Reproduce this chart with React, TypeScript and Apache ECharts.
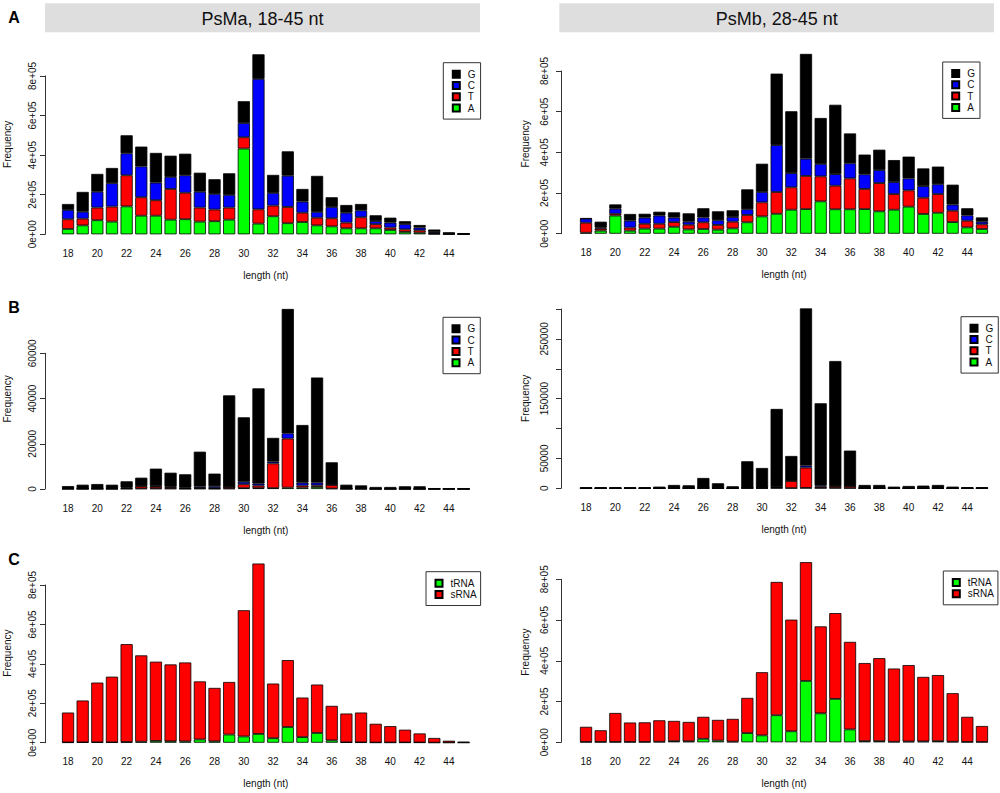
import React, { useEffect, useRef } from "react";
import * as echarts from "echarts";

// ---------- categories ----------
const LENGTHS = [
  "18", "19", "20", "21", "22", "23", "24", "25", "26", "27", "28", "29", "30", "31",
  "32", "33", "34", "35", "36", "37", "38", "39", "40", "41", "42", "43", "44", "45",
];

// ---------- data (thousands of reads) ----------
// Row A: PsMa 18-45 nt, first-nucleotide composition of all reads
const PSMA_A = [27, 45, 71, 64, 141, 94, 94, 74, 76, 64, 66, 74, 433, 54, 91, 56, 62, 45, 40, 30, 30, 30, 22, 12, 8, 2, 1, 0.5];
const PSMA_T = [49, 34, 64, 76, 157, 93, 78, 155, 134, 71, 59, 61, 57, 72, 54, 82, 47, 39, 41, 29, 56, 21, 12, 13, 12, 3, 1, 0.5];
const PSMA_C = [47, 35, 80, 118, 111, 156, 89, 61, 88, 80, 79, 64, 72, 659, 64, 158, 56, 29, 57, 50, 35, 16, 25, 26, 14, 6, 2, 1];
const PSMA_G = [30, 100, 90, 77, 91, 100, 150, 107, 109, 96, 74, 109, 110, 124, 91, 123, 64, 182, 49, 39, 32, 29, 25, 15, 13, 13, 6, 3];

// Row A: PsMb 28-45 nt
const PSMB_A = [5, 15, 89, 15, 25, 25, 34, 21, 23, 20, 26, 56, 85, 98, 118, 121, 159, 120, 120, 121, 110, 118, 133, 97, 103, 57, 31, 23];
const PSMB_T = [49, 10, 9, 15, 24, 24, 23, 23, 33, 23, 33, 36, 69, 107, 110, 163, 123, 116, 152, 99, 139, 77, 80, 80, 92, 56, 33, 23];
const PSMB_C = [20, 5, 25, 34, 30, 40, 22, 15, 24, 23, 23, 28, 51, 231, 70, 85, 61, 57, 74, 72, 64, 59, 59, 57, 48, 30, 26, 13];
const PSMB_G = [2, 29, 21, 33, 19, 19, 26, 41, 45, 44, 33, 98, 139, 351, 304, 515, 226, 341, 147, 97, 100, 108, 107, 87, 87, 98, 35, 21];

// Row B: tRNA-derived reads, PsMa
const TRNA_MA_A = [0.05, 0.05, 0.05, 0.05, 0.1, 0.2, 0.2, 0.2, 0.1, 0.2, 0.1, 0.2, 0.4, 0.4, 0.4, 0.6, 0.6, 0.9, 0.2, 0.05, 0.05, 0.02, 0.02, 0.02, 0.02, 0.01, 0.01, 0.01];
const TRNA_MA_T = [0.1, 0.1, 0.1, 0.1, 0.3, 1.0, 0.8, 0.6, 0.2, 0.3, 0.3, 0.7, 1.7, 1.1, 10.9, 21.7, 0.9, 0.7, 1.6, 0.1, 0.1, 0.05, 0.05, 0.05, 0.05, 0.02, 0.02, 0.02];
const TRNA_MA_C = [0.05, 0.05, 0.1, 0.05, 0.3, 0.2, 0.3, 0.3, 0.3, 0.6, 0.8, 0.1, 1.1, 0.9, 0.8, 2.3, 1.3, 1.2, 0.1, 0.05, 0.05, 0.02, 0.02, 0.02, 0.02, 0.01, 0.01, 0.01];
const TRNA_MA_G = [1.1, 1.7, 1.95, 1.7, 2.7, 3.6, 7.7, 6.1, 5.9, 15.4, 5.6, 40.4, 28.5, 42.1, 10.5, 55.0, 25.5, 46.5, 9.9, 1.7, 1.4, 0.81, 0.81, 1.11, 1.11, 0.36, 0.36, 0.36];

// Row B: tRNA-derived reads, PsMb
const TRNA_MB_A = [0.05, 0.05, 0.05, 0.05, 0.05, 0.05, 0.1, 0.1, 0.2, 0.1, 0.05, 0.3, 0.3, 0.5, 0.3, 0.6, 0.5, 0.5, 0.3, 0.1, 0.1, 0.05, 0.05, 0.05, 0.1, 0.05, 0.05, 0.05];
const TRNA_MB_T = [0.1, 0.1, 0.1, 0.1, 0.1, 0.1, 0.3, 0.3, 0.5, 0.3, 0.2, 0.5, 0.5, 1.0, 12.0, 34.0, 2.3, 3.0, 3.5, 0.2, 0.2, 0.1, 0.2, 0.2, 0.2, 0.1, 0.1, 0.1];
const TRNA_MB_C = [0.05, 0.05, 0.05, 0.05, 0.05, 0.1, 0.1, 0.1, 0.3, 0.1, 0.05, 0.4, 0.3, 0.8, 0.5, 3.4, 2.2, 0.5, 0.3, 0.1, 0.1, 0.05, 0.05, 0.1, 0.1, 0.05, 0.05, 0.05];
const TRNA_MB_G = [1.5, 1.5, 1.5, 1.5, 1.5, 2.55, 5.1, 4.5, 16.3, 7.9, 3.1, 44.0, 32.9, 130.5, 41.3, 263, 137.3, 209, 59.0, 5.2, 5.2, 2.6, 3.6, 4.15, 5.2, 2.6, 1.5, 1.5];

// ---------- axis ticks ----------
const TICKS_SCI = [0, 200000, 400000, 600000, 800000];
const TICKS_B_MA = [0, 20000, 40000, 60000];
const TICKS_B_MB = [0, 50000, 100000, 150000, 200000, 250000, 300000];
const LABELS_B_MB = [0, 50000, 150000, 250000];

const TITLES = ["PsMa, 18-45 nt", "PsMb, 28-45 nt"];
const ROW_LETTERS = ["A", "B", "C"];

const FONT = '"Liberation Sans", Arial, Helvetica, sans-serif';
const COL = { A: "#00ff00", T: "#ff0000", C: "#0000ff", G: "#000000", tRNA: "#00ff00", sRNA: "#ff0000" };

const toReads = (arr: number[]) => arr.map((v) => Math.round(v * 1000));
const addUp = (...arrs: number[][]) => arrs[0].map((_, i) => arrs.reduce((s, a) => s + a[i], 0));

export default function App() {
  const ref = useRef<HTMLDivElement>(null);

  useEffect(() => {
    if (!ref.current) return;
    const chart = echarts.init(ref.current, null, { renderer: "svg" });

    const maTotal = addUp(PSMA_A, PSMA_T, PSMA_C, PSMA_G);
    const mbTotal = addUp(PSMB_A, PSMB_T, PSMB_C, PSMB_G);
    const maTrna = addUp(TRNA_MA_A, TRNA_MA_T, TRNA_MA_C, TRNA_MA_G);
    const mbTrna = addUp(TRNA_MB_A, TRNA_MB_T, TRNA_MB_C, TRNA_MB_G);
    const maSrna = maTotal.map((v, i) => v - maTrna[i]);
    const mbSrna = mbTotal.map((v, i) => v - mbTrna[i]);

    const sci = (v: number) => (v === 0 ? "0e+00" : `${v / 100000}e+05`);
    const plain = (v: number) => String(v);

    const L = { left: 60.7, width: 410.2, axisOff: 15.7, lblMargin: 8, freqX: 7 };
    const R = { left: 578.7, width: 410.6, axisOff: 17.7, lblMargin: 12, freqX: 525 };

    const panels = [
      { col: L, top: 75.9, height: 158.4, ticks: TICKS_SCI, labels: TICKS_SCI, fmt: sci,
        stacks: [["A", PSMA_A], ["T", PSMA_T], ["C", PSMA_C], ["G", PSMA_G]], legend: ["G", "C", "T", "A"],
        legPos: [443.3, 62.7], total: maTotal },
      { col: R, top: 71, height: 162.7, ticks: TICKS_SCI, labels: TICKS_SCI, fmt: sci,
        stacks: [["A", PSMB_A], ["T", PSMB_T], ["C", PSMB_C], ["G", PSMB_G]], legend: ["G", "C", "T", "A"],
        legPos: [942.7, 62], total: mbTotal },
      { col: L, top: 353.3, height: 135.7, ticks: TICKS_B_MA, labels: TICKS_B_MA, fmt: plain,
        stacks: [["A", TRNA_MA_A], ["T", TRNA_MA_T], ["C", TRNA_MA_C], ["G", TRNA_MA_G]], legend: ["G", "C", "T", "A"],
        legPos: [443, 317.3], total: maTrna },
      { col: R, top: 309, height: 179.3, ticks: TICKS_B_MB, labels: LABELS_B_MB, fmt: plain,
        stacks: [["A", TRNA_MB_A], ["T", TRNA_MB_T], ["C", TRNA_MB_C], ["G", TRNA_MB_G]], legend: ["G", "C", "T", "A"],
        legPos: [961, 316.7], total: mbTrna },
      { col: L, top: 585, height: 157.7, ticks: TICKS_SCI, labels: TICKS_SCI, fmt: sci,
        stacks: [["tRNA", maTrna], ["sRNA", maSrna]], legend: ["tRNA", "sRNA"],
        legPos: [426, 571.7], total: maTotal },
      { col: R, top: 579.3, height: 163, ticks: TICKS_SCI, labels: TICKS_SCI, fmt: sci,
        stacks: [["tRNA", mbTrna], ["sRNA", mbSrna]], legend: ["tRNA", "sRNA"],
        legPos: [943.3, 571], total: mbTotal },
    ];

    const textCol = "#111";
    const grid: any[] = [];
    const xAxis: any[] = [];
    const yAxis: any[] = [];
    const series: any[] = [];
    const legend: any[] = [];

    panels.forEach((p, i) => {
      grid.push({ left: p.col.left, top: p.top, width: p.col.width, height: p.height, containLabel: false });
      xAxis.push({
        type: "category", gridIndex: i, data: LENGTHS,
        axisLine: { show: false }, axisTick: { show: false },
        axisLabel: { interval: 1, margin: 14, fontSize: 10, fontFamily: FONT, color: textCol },
        name: "length (nt)", nameLocation: "middle", nameGap: 36,
        nameTextStyle: { fontSize: 10, fontFamily: FONT, color: textCol },
      });
      const top = p.ticks[p.ticks.length - 1];
      yAxis.push({
        type: "value", gridIndex: i, min: 0, max: top, interval: p.ticks[1],
        offset: p.col.axisOff,
        axisLine: { show: true, lineStyle: { color: "#333", width: 1 } },
        axisTick: { show: true, length: 5, lineStyle: { color: "#333", width: 1 }, customValues: p.ticks },
        axisLabel: {
          rotate: 90, margin: p.col.lblMargin, fontSize: 10, fontFamily: FONT, color: textCol,
          formatter: p.fmt, customValues: p.labels, showMinLabel: true, showMaxLabel: true,
        },
        splitLine: { show: false },
      });
      p.stacks.forEach(([name, arr]: any) => {
        series.push({
          type: "bar", name, xAxisIndex: i, yAxisIndex: i, stack: "s" + i,
          data: toReads(arr as number[]),
          barCategoryGap: "17%", clip: false, silent: true,
          emphasis: { disabled: true },
          itemStyle: { color: (COL as any)[name], borderColor: "#000", borderWidth: 0.8 },
        });
      });
      const isTwo = p.legend.length === 2;
      legend.push({
        data: p.legend, orient: "vertical", left: p.legPos[0], top: p.legPos[1],
        icon: "rect", itemWidth: 7, itemHeight: 7, itemGap: 1.3,
        padding: [6.5, isTwo ? 4 : 5, 6, 8.5],
        borderColor: "#333", borderWidth: 1, selectedMode: false,
        textStyle: { fontSize: 10, lineHeight: 10, fontFamily: FONT, color: textCol, padding: [0, 0, 0, 3] },
      });
    });

    chart.setOption({
      animation: false,
      backgroundColor: "#ffffff",
      grid, xAxis, yAxis, series, legend,
    });

    // graphic annotations placed through the axis scales
    const g: any[] = [];
    const strips = [
      { x: 45, w: 435, cx: 262.5 },
      { x: 559.3, w: 434.7, cx: 776.7 },
    ];
    strips.forEach((s, i) => {
      g.push({ type: "rect", shape: { x: s.x, y: 3.3, width: s.w, height: 29 }, style: { fill: "#dedede" }, silent: true });
      g.push({
        type: "text", x: s.cx, y: 18.5, silent: true,
        style: { text: TITLES[i], fontSize: 18, fontFamily: FONT, fill: "#111", align: "center", verticalAlign: "middle" },
      });
    });
    const letterY = [17.3, 307.5, 559];
    ROW_LETTERS.forEach((t, i) => {
      g.push({
        type: "text", x: 14, y: letterY[i], silent: true,
        style: { text: t, fontSize: 16, fontWeight: "bold", fontFamily: FONT, fill: "#000", align: "center", verticalAlign: "middle" },
      });
    });
    panels.forEach((p, i) => {
      const maxV = Math.max(...p.total) * 1000;
      const yMid = chart.convertToPixel({ yAxisIndex: i } as any, maxV / 2) as number;
      g.push({
        type: "text", x: p.col.freqX, y: yMid, rotation: Math.PI / 2, silent: true,
        style: { text: "Frequency", fontSize: 10, fontFamily: FONT, fill: textCol, align: "center", verticalAlign: "middle" },
      });
    });
    chart.setOption({ graphic: g });

    return () => chart.dispose();
  }, []);

  return (
    <div
      ref={ref}
      style={{ position: "fixed", left: 0, top: 0, width: 1000, height: 793, background: "#fff" }}
    />
  );
}
